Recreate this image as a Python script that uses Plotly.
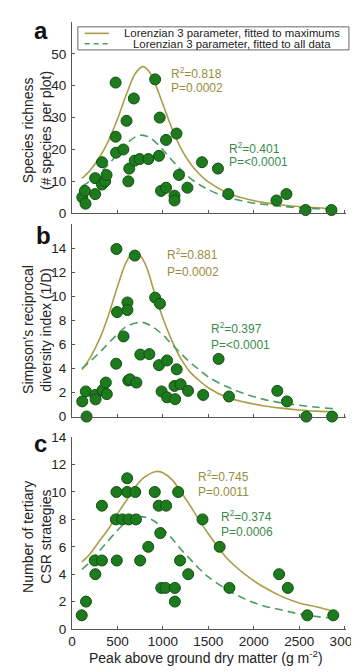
import plotly.graph_objects as go

# ---------------- data ----------------
# Panel a: species richness
a_x = [113, 142, 149, 255, 255, 330, 330, 365, 380, 480, 480, 485, 565, 600, 620, 630, 680, 690, 745,
       840, 915, 965, 957, 980, 1035, 1035, 1128, 1128, 1150, 1177, 1270, 1430, 1606, 1720, 2250, 2360, 2570, 2855]
a_y = [5, 7, 3, 6, 11, 16, 9, 10, 12, 41, 24, 19, 20, 29, 10, 14, 36, 16.5, 17,
       17, 42, 30, 18, 7, 8, 23, 5.5, 4, 25, 12, 8, 16, 14, 6, 4, 6, 1, 1]

# Panel b: Simpson's reciprocal diversity index
b_x = [113, 152, 160, 255, 259, 337, 372, 383, 489, 496, 486, 567, 610, 610, 620, 638, 691, 709, 752,
       851, 915, 968, 957, 986, 1046, 1046, 1128, 1135, 1152, 1195, 1277, 1443, 1613, 1727, 2259, 2365, 2578, 2862]
b_y = [1.26, 2.09, 0, 1.8, 1.43, 2.2, 2.83, 1.87, 13.95, 8.7, 4.4, 6.67, 9.5, 8.87, 3.0, 3.1, 13.4, 2.83, 5.16,
       5.2, 9.9, 9.4, 4.28, 2.09, 4.67, 1.6, 2.55, 1.45, 3.93, 2.69, 2.14, 1.8, 4.8, 1.67, 2.14, 1.26, 0, 0]

# Panel c: number of tertiary CSR strategies
c_x = [107, 154, 257, 250, 329, 329, 493, 482, 489, 554, 607, 607, 625, 696, 704, 750, 839, 911, 954, 971,
       1036, 982, 1029, 1132, 1132, 1168, 1189, 1279, 1436, 1625, 1732, 2279, 2375, 2589, 2875]
c_y = [1, 2, 4, 5, 5, 9, 5, 8, 10, 8, 11, 10, 8, 10, 8, 5, 6, 10, 9, 7,
       9, 3, 3, 3, 2, 10, 5, 4, 8, 6, 3, 4, 3, 1, 1]

# Fitted Lorenzian curves
a_max_x = [110, 200, 300, 400, 500, 600, 700, 780, 850, 900, 1000, 1100, 1200, 1300, 1400, 1500, 1700, 1900, 2100, 2300, 2500, 2700, 2870]
a_max_y = [10.9, 13.5, 17.4, 22.6, 29.5, 37.4, 44.0, 46.0, 44.4, 41.7, 34.2, 26.6, 20.3, 15.7, 12.3, 9.8, 6.5, 4.6, 3.4, 2.6, 2.1, 1.7, 1.4]
a_all_x = [110, 200, 300, 400, 500, 600, 700, 770, 850, 900, 1000, 1100, 1200, 1300, 1400, 1500, 1700, 1900, 2100, 2300, 2500, 2700, 2870]
a_all_y = [8.5, 10.1, 12.5, 15.3, 18.6, 21.8, 24.0, 24.5, 23.8, 22.8, 19.9, 16.6, 13.6, 11.0, 9.0, 7.4, 5.1, 3.7, 2.8, 2.2, 1.7, 1.4, 1.2]

b_max_x = [110, 200, 300, 400, 500, 600, 695, 800, 900, 1000, 1100, 1200, 1300, 1400, 1500, 1700, 1900, 2100, 2300, 2500, 2700, 2870]
b_max_y = [3.9, 4.9, 6.4, 8.4, 10.8, 12.9, 13.8, 12.8, 10.5, 8.2, 6.3, 4.8, 3.7, 3.0, 2.4, 1.6, 1.2, 0.9, 0.7, 0.55, 0.45, 0.39]
b_all_x = [110, 200, 300, 400, 500, 600, 746, 800, 900, 1000, 1100, 1200, 1300, 1400, 1500, 1700, 1900, 2100, 2300, 2500, 2700, 2870]
b_all_y = [4.0, 4.6, 5.3, 6.1, 6.85, 7.5, 7.85, 7.8, 7.4, 6.8, 6.0, 5.25, 4.5, 3.9, 3.3, 2.5, 1.9, 1.45, 1.15, 0.94, 0.77, 0.66]

c_max_x = [110, 200, 300, 400, 500, 600, 700, 800, 930, 1000, 1100, 1200, 1300, 1400, 1500, 1700, 1900, 2100, 2300, 2500, 2700, 2870]
c_max_y = [4.9, 5.5, 6.4, 7.3, 8.4, 9.4, 10.4, 11.1, 11.5, 11.4, 10.9, 10.0, 9.0, 7.95, 6.95, 5.2, 4.0, 3.1, 2.4, 1.9, 1.6, 1.3]
c_all_x = [110, 200, 300, 400, 500, 600, 760, 900, 1000, 1100, 1200, 1300, 1400, 1500, 1700, 1900, 2100, 2300, 2500, 2700, 2870]
c_all_y = [4.35, 4.9, 5.7, 6.45, 7.2, 7.8, 8.2, 7.9, 7.3, 6.6, 5.8, 5.1, 4.4, 3.8, 2.9, 2.2, 1.7, 1.4, 1.1, 0.9, 0.8]

stats = {
    "a": [("R<sup>2</sup>=0.818", "P=0.0002"), ("R<sup>2</sup>=0.401", "P=<0.0001")],
    "b": [("R<sup>2</sup>=0.881", "P=0.0002"), ("R<sup>2</sup>=0.397", "P=<0.0001")],
    "c": [("R<sup>2</sup>=0.745", "P=0.0011"), ("R<sup>2</sup>=0.374", "P=0.0006")],
}
x_ticks = [0, 500, 1000, 1500, 2000, 2500, 3000]
legend_labels = ["Lorenzian 3 parameter, fitted to maximums", "Lorenzian 3 parameter, fitted to all data"]

# ---------------- style ----------------
FONT = "Liberation Sans, Arial, sans-serif"
OLIVE = "#ab9d48"
OLIVE_TXT = "#9a8c3a"
GREEN = "#4a9d64"
GREEN_TXT = "#3a8a4c"
MK_FILL = "#1d7a1d"
MK_EDGE = "#125012"
AX = "#555555"
TXT = "#222222"

fig = go.Figure()

panels = [
    ("a", "x", "y", a_x, a_y, a_max_x, a_max_y, a_all_x, a_all_y),
    ("b", "x2", "y2", b_x, b_y, b_max_x, b_max_y, b_all_x, b_all_y),
    ("c", "x3", "y3", c_x, c_y, c_max_x, c_max_y, c_all_x, c_all_y),
]
for key, xa, ya, px, py, mx, my, ax_, ay_ in panels:
    fig.add_trace(go.Scatter(x=mx, y=my, mode="lines", line=dict(color=OLIVE, width=1.6, shape="spline"),
                             xaxis=xa, yaxis=ya, showlegend=False, hoverinfo="skip"))
    fig.add_trace(go.Scatter(x=ax_, y=ay_, mode="lines",
                             line=dict(color=GREEN, width=1.6, dash="8px,5px", shape="spline"),
                             xaxis=xa, yaxis=ya, showlegend=False, hoverinfo="skip"))
    fig.add_trace(go.Scatter(x=px, y=py, mode="markers",
                             marker=dict(size=11, color=MK_FILL, line=dict(color=MK_EDGE, width=1)),
                             xaxis=xa, yaxis=ya, showlegend=False, cliponaxis=False))

common_x = dict(range=[0, 3015], showline=True, linecolor=AX, linewidth=1, ticks="inside", ticklen=3,
                tickcolor=AX, tickvals=x_ticks, showgrid=False, zeroline=False,
                tickfont=dict(family=FONT, size=13.5, color=TXT))
common_y = dict(showline=True, linecolor=AX, linewidth=1, ticks="inside", ticklen=3, tickcolor=AX,
                showgrid=False, zeroline=False, tickfont=dict(family=FONT, size=13.5, color=TXT),
                ticklabelstandoff=2)

fig.update_layout(
    width=359, height=672,
    margin=dict(l=64, r=14, t=7, b=51),
    paper_bgcolor="white", plot_bgcolor="white",
    font=dict(family=FONT, color=TXT),
    xaxis=dict(common_x, domain=[0, 1], anchor="y", showticklabels=False),
    yaxis=dict(common_y, domain=[0.685, 1.0], range=[0, 60], tickvals=[0, 10, 20, 30, 40, 50], anchor="x"),
    xaxis2=dict(common_x, domain=[0, 1], anchor="y2", showticklabels=False),
    yaxis2=dict(common_y, domain=[0.35, 0.6666], range=[0, 16], tickvals=list(range(0, 15, 2)), anchor="x2"),
    xaxis3=dict(common_x, domain=[0, 1], anchor="y3"),
    yaxis3=dict(common_y, domain=[0.0, 0.316], range=[0, 14], tickvals=list(range(0, 15, 2)), anchor="x3"),
)

ann = []
# panel letters
for letter, xp, yp in [("a", -0.114, 0.986), ("b", -0.103, 0.648), ("c", -0.114, 0.306)]:
    ann.append(dict(text="<b>%s</b>" % letter, x=xp, y=yp, xref="paper", yref="paper", showarrow=False,
                    font=dict(family=FONT, size=24, color="#111111"), xanchor="center", yanchor="middle"))

# y axis titles (two lines each)
ytitles = [
    ("Species richness", "(# species per plot)", 0.822),
    ("Simpson's reciprocal", "diversity index (1/D)", 0.493),
    ("Number of tertiary", "CSR strategies", 0.152),
]
for l1, l2, yp in ytitles:
    ann.append(dict(text=l1, x=-0.160, y=yp, xref="paper", yref="paper", showarrow=False, textangle=-90,
                    font=dict(family=FONT, size=14, color=TXT), xanchor="center", yanchor="middle"))
    ann.append(dict(text=l2, x=-0.095, y=yp, xref="paper", yref="paper", showarrow=False, textangle=-90,
                    font=dict(family=FONT, size=14, color=TXT), xanchor="center", yanchor="middle"))

# x axis title
ann.append(dict(text="Peak above ground dry matter (g m<sup>-2</sup>)", x=0.49, y=-0.046, xref="paper", yref="paper",
                showarrow=False, font=dict(family=FONT, size=14, color=TXT), xanchor="center", yanchor="middle"))

# statistics text
stat_pos = {
    "a": ("x", "y", [(1062, 44.0, 39.3), (1703, 20.6, 16.0)]),
    "b": ("x2", "y2", [(1023, 13.55, 12.05), (1502, 7.35, 5.95)]),
    "c": ("x3", "y3", [(1359, 11.2, 10.0), (1620, 8.25, 7.05)]),
}
for key, (xr, yr, poss) in stat_pos.items():
    for (r2, p), (xx, y1, y2), col in zip(stats[key], poss, [OLIVE_TXT, GREEN_TXT]):
        for t, yy in [(r2, y1), (p, y2)]:
            ann.append(dict(text=t, x=xx, y=yy, xref=xr, yref=yr, showarrow=False, xanchor="left",
                            yanchor="middle", font=dict(family=FONT, size=12, color=col)))

# manual legend box
shapes = [
    dict(type="rect", xref="paper", yref="paper", x0=0.0214, x1=1.0107, y0=0.954, y1=0.992,
         line=dict(color="#666666", width=1), fillcolor="white", layer="above"),
    dict(type="line", xref="paper", yref="paper", x0=0.046, x1=0.135, y0=0.9813, y1=0.9813,
         line=dict(color=OLIVE, width=1.6)),
    dict(type="line", xref="paper", yref="paper", x0=0.046, x1=0.135, y0=0.9642, y1=0.9642,
         line=dict(color=GREEN, width=1.6, dash="5px,4px")),
]
ann.append(dict(text=legend_labels[0], x=0.584, y=0.9813, xref="paper", yref="paper", showarrow=False,
                xanchor="center", yanchor="middle", font=dict(family=FONT, size=11.4, color=TXT)))
ann.append(dict(text=legend_labels[1], x=0.584, y=0.9642, xref="paper", yref="paper", showarrow=False,
                xanchor="center", yanchor="middle", font=dict(family=FONT, size=11.4, color=TXT)))

fig.update_layout(annotations=ann, shapes=shapes)
fig.write_html("out.html")
